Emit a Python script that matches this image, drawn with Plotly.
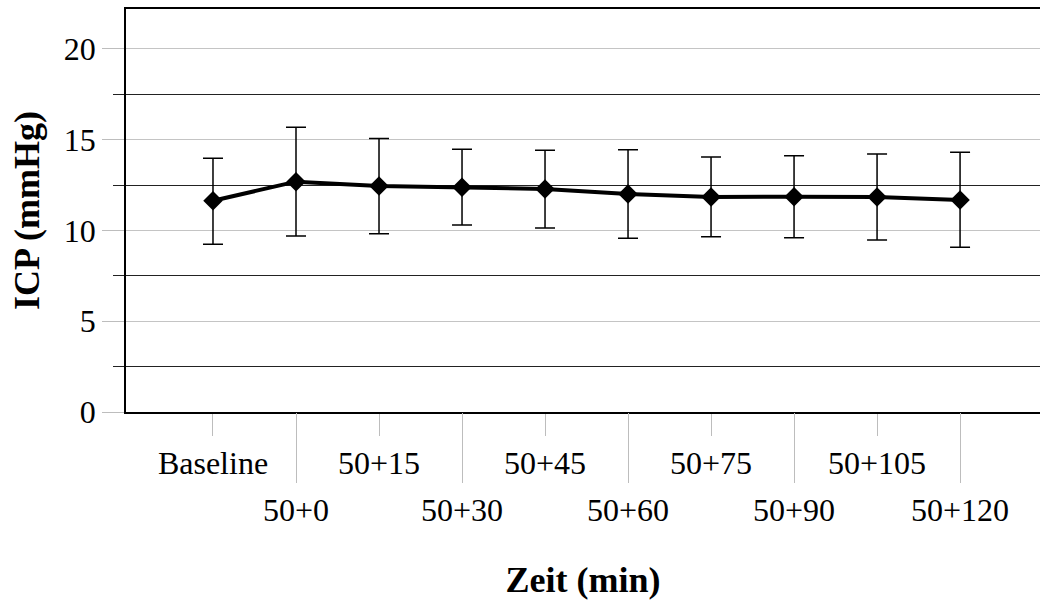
import plotly.graph_objects as go

categories = ["Baseline", "50+0", "50+15", "50+30", "50+45", "50+60", "50+75", "50+90", "50+105", "50+120"]
icp_mean = [11.64, 12.69, 12.45, 12.38, 12.29, 12.01, 11.85, 11.86, 11.84, 11.68]
icp_upper = [13.98, 15.69, 15.06, 14.47, 14.42, 14.44, 14.05, 14.12, 14.21, 14.31]
icp_lower = [9.24, 9.70, 9.82, 10.30, 10.14, 9.57, 9.66, 9.60, 9.48, 9.07]
y_major_ticks = [0, 5, 10, 15, 20]
y_minor_ticks = [2.5, 7.5, 12.5, 17.5]

xs = list(range(len(categories)))
err_plus = [u - m for u, m in zip(icp_upper, icp_mean)]
err_minus = [m - l for m, l in zip(icp_mean, icp_lower)]

FONT = "Liberation Serif, Times New Roman, serif"

fig = go.Figure()
fig.add_trace(go.Scatter(
    x=xs, y=icp_mean, mode="lines+markers",
    line=dict(color="black", width=4),
    marker=dict(symbol="diamond", size=15, color="black"),
    error_y=dict(type="data", symmetric=False, array=err_plus, arrayminus=err_minus,
                 color="black", thickness=1.5, width=10),
    showlegend=False,
))

xr = [-1.048, 9.963]
odd_idx = xs[0::2]
even_idx = xs[1::2]

fig.update_layout(
    width=1040, height=600,
    margin=dict(l=126, r=0, t=9, b=188),
    paper_bgcolor="white", plot_bgcolor="white",
    font=dict(family=FONT, size=32, color="black"),
    xaxis=dict(
        range=xr, tickmode="array", tickvals=odd_idx,
        ticktext=[categories[i] for i in odd_idx],
        ticks="outside", ticklen=22, tickcolor="#bdbdbd", tickwidth=1,
        showgrid=False, zeroline=False,
        showline=True, linecolor="black", linewidth=1.5, mirror=True,
        tickfont=dict(family=FONT, size=32, color="black"),
    ),
    xaxis2=dict(
        range=xr, overlaying="x", anchor="y", side="bottom",
        tickmode="array", tickvals=even_idx,
        ticktext=[categories[i] for i in even_idx],
        ticks="outside", ticklen=70, tickcolor="#bdbdbd", tickwidth=1,
        showgrid=False, zeroline=False, showline=False,
        tickfont=dict(family=FONT, size=32, color="black"),
        title=dict(text="<b>Zeit (min)</b>", font=dict(family=FONT, size=36, color="black"), standoff=43),
    ),
    yaxis=dict(
        range=[0, 22.2], tickmode="array", tickvals=y_major_ticks,
        ticks="outside", ticklen=22, tickcolor="#bdbdbd", tickwidth=1,
        showgrid=True, gridcolor="#c4c4c4", gridwidth=1,
        zeroline=False, showline=True, linecolor="black", linewidth=1.5, mirror=False,
        minor=dict(tickvals=y_minor_ticks, showgrid=True, gridcolor="#222222", gridwidth=1,
                   ticks="outside", ticklen=11, tickcolor="#222222", tickwidth=1),
        tickfont=dict(family=FONT, size=32, color="black"),
        title=dict(text="<b>ICP (mmHg)</b>", font=dict(family=FONT, size=36, color="black"), standoff=13),
        automargin=False,
    ),
)
fig.update_xaxes(automargin=False)

# invisible trace on xaxis2 so that the second (lower-row) axis is rendered
fig.add_trace(go.Scatter(x=[xs[0]], y=[icp_mean[0]], xaxis="x2", mode="markers",
                         marker=dict(opacity=0), showlegend=False, hoverinfo="skip"))

fig.write_html("out.html")
